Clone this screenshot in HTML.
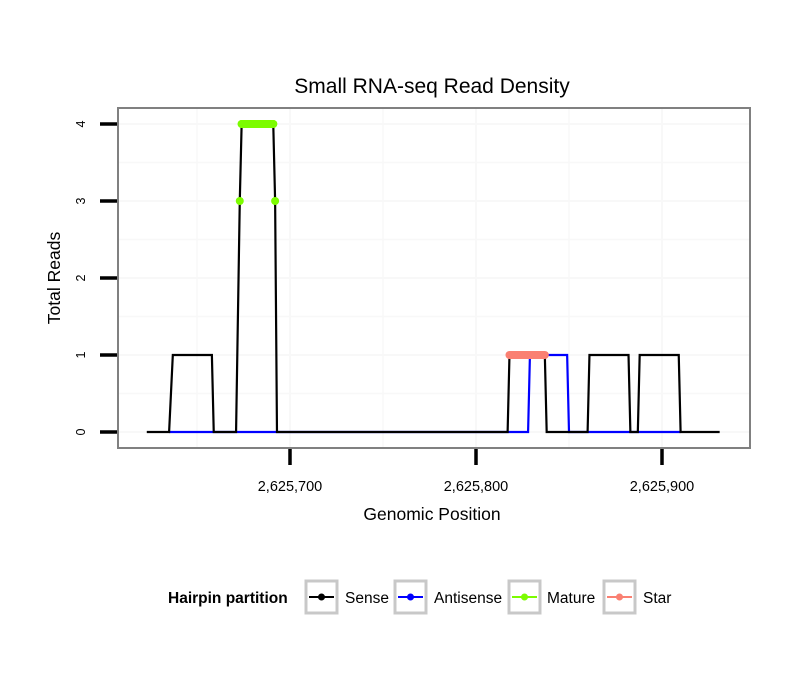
<!DOCTYPE html>
<html><head><meta charset="utf-8"><style>
body{margin:0;background:#fff;}
svg text{font-family:"Liberation Sans",sans-serif;}
</style></head><body>
<svg id="chart" width="810" height="690" xmlns="http://www.w3.org/2000/svg">
<rect width="810" height="690" fill="#fff"/>
<text x="432" y="93" font-size="21" text-anchor="middle">Small RNA-seq Read Density</text>
<g id="grid"></g>
<g id="series"></g>
<rect x="118" y="108" width="632" height="340" fill="none" stroke="#808080" stroke-width="2"/>
<g id="axes"></g>
<text x="432" y="520" font-size="17.5" text-anchor="middle">Genomic Position</text>
<text x="60" y="278" font-size="17.5" text-anchor="middle" transform="rotate(-90 60 278)">Total Reads</text>
<g id="legend">
<text x="168" y="603" font-size="15.5" font-weight="bold">Hairpin partition</text>
</g>
</svg>
<script>
const senseX=[2625623,2625635,2625637,2625658,2625659,2625671,2625673,2625674,2625691,2625692,2625693,2625817,2625818,2625837,2625838,2625860,2625861,2625882,2625883,2625887,2625888,2625909,2625910,2625931];
const senseY=[0,0,1,1,0,0,3,4,4,3,0,0,1,1,0,0,1,1,0,0,1,1,0,0];
const antiX=[2625635,2625828,2625829,2625849,2625850,2625910];
const antiY=[0,0,1,1,0,0];
const matureX=[2625673,2625674,2625676,2625678,2625680,2625682,2625684,2625686,2625688,2625690,2625691,2625692];
const matureY=[3,4,4,4,4,4,4,4,4,4,4,3];
const starX=[2625818,2625837];
const starY=[1,1];
const xTicks=[2625700,2625800,2625900];
const xTickLabels=["2,625,700","2,625,800","2,625,900"];
const yTicks=[0,1,2,3,4];

const NS="http://www.w3.org/2000/svg";
const xs=v=>290+(v-2625700)*1.86;
const ys=v=>432-v*77;
function mk(tag,attrs,parent){const e=document.createElementNS(NS,tag);for(const k in attrs)e.setAttribute(k,attrs[k]);parent.appendChild(e);return e;}
const grid=document.getElementById('grid'),series=document.getElementById('series'),axes=document.getElementById('axes'),legend=document.getElementById('legend');
for(let v=-0.5;v<=4.5;v+=0.5){const y=ys(v);if(y<110||y>446)continue;
 const l=mk('line',{x1:119,x2:749,y1:y,y2:y,stroke:'#f8f8f8','stroke-width':Number.isInteger(v)?2:1.5},grid);
 }
for(let v=2625600;v<=2626000;v+=50){const x=xs(v);if(x<120||x>748)continue;
 const l=mk('line',{x1:x,x2:x,y1:109,y2:447,stroke:'#f8f8f8','stroke-width':v%100===0?2:1.5},grid);
 }
function pts(X,Y){return X.map((x,i)=>xs(x)+','+ys(Y[i])).join(' ');}
const a=mk('polyline',{points:pts(antiX,antiY),fill:'none',stroke:'#0000ff','stroke-width':2.2},series);

const s=mk('polyline',{points:pts(senseX,senseY),fill:'none',stroke:'#000','stroke-width':2.2},series);

const st=mk('polyline',{points:pts(starX,starY),fill:'none',stroke:'#fa8072','stroke-width':8,'stroke-linecap':'round'},series);

const mt=mk('polyline',{points:pts(matureX.filter((_,i)=>matureY[i]===4),matureY.filter(v=>v===4)),fill:'none',stroke:'#7cfc00','stroke-width':8,'stroke-linecap':'round'},series);

matureX.forEach((x,i)=>{const c=mk('circle',{cx:xs(x),cy:ys(matureY[i]),r:4,fill:'#7cfc00'},series);
 });
yTicks.forEach(v=>{const y=ys(v);
 const t=mk('line',{x1:100,x2:117,y1:y,y2:y,stroke:'#000','stroke-width':3.5},axes);
 
 const tx=mk('text',{x:85,y:y,'font-size':12.5,'text-anchor':'middle',transform:`rotate(-90 85 ${y})`},axes);
 tx.textContent=v;});
xTicks.forEach((v,i)=>{const x=xs(v);
 const t=mk('line',{x1:x,x2:x,y1:449,y2:465,stroke:'#000','stroke-width':3.5},axes);
 
 const tx=mk('text',{x:x,y:491,'font-size':14.5,'text-anchor':'middle'},axes);
 tx.textContent=xTickLabels[i];});
const leg=[["Sense","#000",306,345],["Antisense","#0000ff",395,434],["Mature","#7cfc00",509,547],["Star","#fa8072",604,643]];
leg.forEach(([n,c,bx,tx])=>{
 const r=mk('rect',{x:bx,y:581,width:31,height:32,fill:'#fff',stroke:'#c8c8c8','stroke-width':3},legend);
 
 mk('line',{x1:bx+3,x2:bx+28,y1:597,y2:597,stroke:c,'stroke-width':2},legend);
 mk('circle',{cx:bx+15.5,cy:597,r:3.5,fill:c},legend);
 const t=mk('text',{x:tx,y:603,'font-size':15.5},legend);
 t.textContent=n;});
</script>
</body></html>
